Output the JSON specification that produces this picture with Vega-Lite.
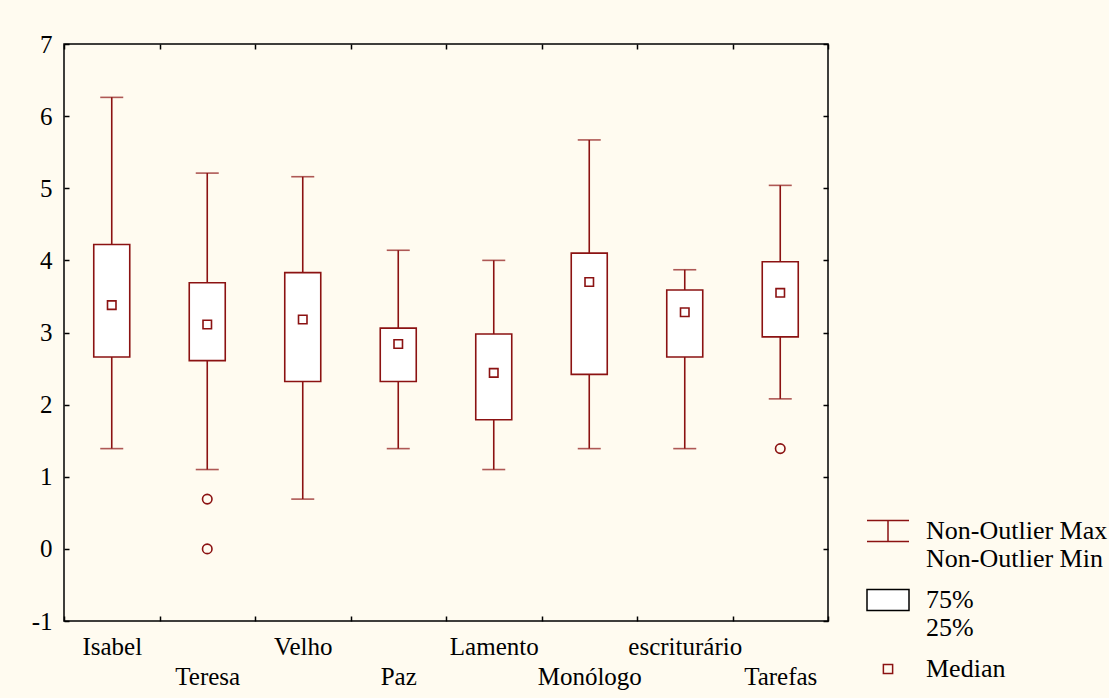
{
  "$schema": "https://vega.github.io/schema/vega-lite/v6.json",
  "width": 764,
  "height": 577,
  "autosize": {"type": "none"},
  "padding": {"left": 64, "top": 44, "right": 281, "bottom": 77},
  "background": "#FFFBF0",
  "config": {
    "view": {"fill": "white", "stroke": "black", "strokeWidth": 1.5},
    "font": "Liberation Serif",
    "axis": {"labelFont": "Liberation Serif", "labelColor": "black", "tickColor": "black", "tickWidth": 1.5, "domain": false, "grid": false, "title": null}
  },
  "datasets": {
    "stats": [
      {"cat": "Isabel", "min": 1.39, "q1": 2.66, "median": 3.38, "q3": 4.22, "max": 6.26},
      {"cat": "Teresa", "min": 1.1, "q1": 2.61, "median": 3.11, "q3": 3.69, "max": 5.21},
      {"cat": "Velho", "min": 0.69, "q1": 2.32, "median": 3.18, "q3": 3.83, "max": 5.16},
      {"cat": "Paz", "min": 1.39, "q1": 2.32, "median": 2.84, "q3": 3.06, "max": 4.14},
      {"cat": "Lamento", "min": 1.1, "q1": 1.79, "median": 2.44, "q3": 2.98, "max": 4.0},
      {"cat": "Monólogo", "min": 1.39, "q1": 2.42, "median": 3.7, "q3": 4.1, "max": 5.67},
      {"cat": "escriturário", "min": 1.39, "q1": 2.66, "median": 3.28, "q3": 3.59, "max": 3.87},
      {"cat": "Tarefas", "min": 2.08, "q1": 2.94, "median": 3.55, "q3": 3.98, "max": 5.04}
    ],
    "outliers": [
      {"cat": "Teresa", "value": 0.69},
      {"cat": "Teresa", "value": 0.0},
      {"cat": "Tarefas", "value": 1.39}
    ],
    "legend": [
      {"entry": "Non-Outlier Max|Non-Outlier Min"},
      {"entry": "75%|25%"},
      {"entry": "Median"}
    ]
  },
  "layer": [
    {
      "data": {"name": "stats"},
      "mark": {"type": "rule", "color": "#8B1212", "strokeWidth": 1.6},
      "encoding": {
        "x": {
          "field": "cat", "type": "nominal", "sort": null,
          "scale": {"domain": ["Isabel", "Teresa", "Velho", "Paz", "Lamento", "Monólogo", "escriturário", "Tarefas"], "paddingInner": 0, "paddingOuter": 0},
          "axis": {
            "orient": "bottom", "tickBand": "extent", "tickSize": -5, "labelPadding": 18,
            "labelFontSize": 25, "labelAngle": 0, "labelBaseline": "top", "labelLineHeight": 30,
            "labelExpr": "indexof(['Teresa','Paz','Monólogo','Tarefas'], datum.label) >= 0 ? ['', datum.label] : datum.label"
          }
        },
        "y": {
          "field": "min", "type": "quantitative",
          "scale": {"domain": [-1, 7], "nice": false, "zero": false},
          "axis": {"orient": "left", "values": [-1, 0, 1, 2, 3, 4, 5, 6, 7], "tickSize": -5, "labelPadding": 17, "labelFontSize": 25,
                   "labelExpr": "datum.value < 0 ? '-' + abs(datum.value) : datum.label"}
        },
        "y2": {"field": "max"}
      }
    },
    {
      "data": {"name": "stats"},
      "mark": {"type": "tick", "color": "#8B1212", "size": 23, "thickness": 1.6},
      "encoding": {
        "x": {"field": "cat", "type": "nominal", "sort": null, "axis": {"orient": "top", "tickBand": "extent", "tickSize": -5, "labels": false}},
        "y": {"field": "max", "type": "quantitative", "axis": {"orient": "right", "values": [-1, 0, 1, 2, 3, 4, 5, 6, 7], "tickSize": -5, "labels": false}}
      }
    },
    {
      "data": {"name": "stats"},
      "mark": {"type": "tick", "color": "#8B1212", "size": 23, "thickness": 1.6},
      "encoding": {
        "x": {"field": "cat", "type": "nominal", "sort": null, "axis": null},
        "y": {"field": "min", "type": "quantitative", "axis": null}
      }
    },
    {
      "data": {"name": "stats"},
      "mark": {"type": "bar", "size": 36, "fill": "white", "stroke": "#8B1212", "strokeWidth": 1.6},
      "encoding": {
        "x": {"field": "cat", "type": "nominal", "sort": null, "axis": null},
        "y": {"field": "q1", "type": "quantitative", "axis": null},
        "y2": {"field": "q3"}
      }
    },
    {
      "data": {"name": "stats"},
      "mark": {"type": "point", "shape": "square", "size": 72, "filled": false, "color": "#8B1212", "strokeWidth": 1.6, "opacity": 1},
      "encoding": {
        "x": {"field": "cat", "type": "nominal", "sort": null, "axis": null},
        "y": {"field": "median", "type": "quantitative", "axis": null}
      }
    },
    {
      "data": {"name": "outliers"},
      "mark": {"type": "point", "shape": "circle", "size": 90, "filled": false, "color": "#8B1212", "strokeWidth": 1.6, "opacity": 1},
      "encoding": {
        "x": {"field": "cat", "type": "nominal", "sort": null, "axis": null},
        "y": {"field": "value", "type": "quantitative", "axis": null}
      }
    },
    {
      "data": {"name": "legend"},
      "mark": {"type": "point", "opacity": 0, "strokeWidth": 1.5},
      "encoding": {
        "shape": {
          "field": "entry", "type": "nominal",
          "scale": {"domain": ["Non-Outlier Max|Non-Outlier Min", "75%|25%", "Median"], "range": ["M-1,-0.5H1M0,-0.5V0.5M-1,0.5H1", "M-1,-0.5H1V0.5H-1Z", "M-0.22,-0.22H0.22V0.22H-0.22Z"]},
          "legend": {
            "title": null, "orient": "none", "legendX": 802, "legendY": 465, "padding": 0,
            "symbolSize": 1764, "symbolStrokeWidth": 1.5, "labelFontSize": 26, "labelFont": "Liberation Serif",
            "labelColor": "black", "labelLimit": 0, "labelOffset": 16, "labelLineHeight": 30, "rowPadding": 6,
            "labelExpr": "split(datum.label, '|')",
            "encode": {"symbols": {"update": {"opacity": {"value": 1}}}}
          }
        },
        "stroke": {
          "field": "entry", "type": "nominal",
          "scale": {"domain": ["Non-Outlier Max|Non-Outlier Min", "75%|25%", "Median"], "range": ["#8B1212", "black", "#8B1212"]},
          "legend": {
            "title": null, "orient": "none", "legendX": 802, "legendY": 465, "padding": 0,
            "symbolSize": 1764, "symbolStrokeWidth": 1.5, "labelFontSize": 26, "labelFont": "Liberation Serif",
            "labelColor": "black", "labelLimit": 0, "labelOffset": 16, "labelLineHeight": 30, "rowPadding": 6,
            "labelExpr": "split(datum.label, '|')",
            "encode": {"symbols": {"update": {"opacity": {"value": 1}}}}
          }
        },
        "fill": {
          "field": "entry", "type": "nominal",
          "scale": {"domain": ["Non-Outlier Max|Non-Outlier Min", "75%|25%", "Median"], "range": ["transparent", "white", "transparent"]},
          "legend": {
            "title": null, "orient": "none", "legendX": 802, "legendY": 465, "padding": 0,
            "symbolSize": 1764, "symbolStrokeWidth": 1.5, "labelFontSize": 26, "labelFont": "Liberation Serif",
            "labelColor": "black", "labelLimit": 0, "labelOffset": 16, "labelLineHeight": 30, "rowPadding": 6,
            "labelExpr": "split(datum.label, '|')",
            "encode": {"symbols": {"update": {"opacity": {"value": 1}}}}
          }
        }
      }
    }
  ],
  "resolve": {"axis": {"x": "independent", "y": "independent"}}
}
